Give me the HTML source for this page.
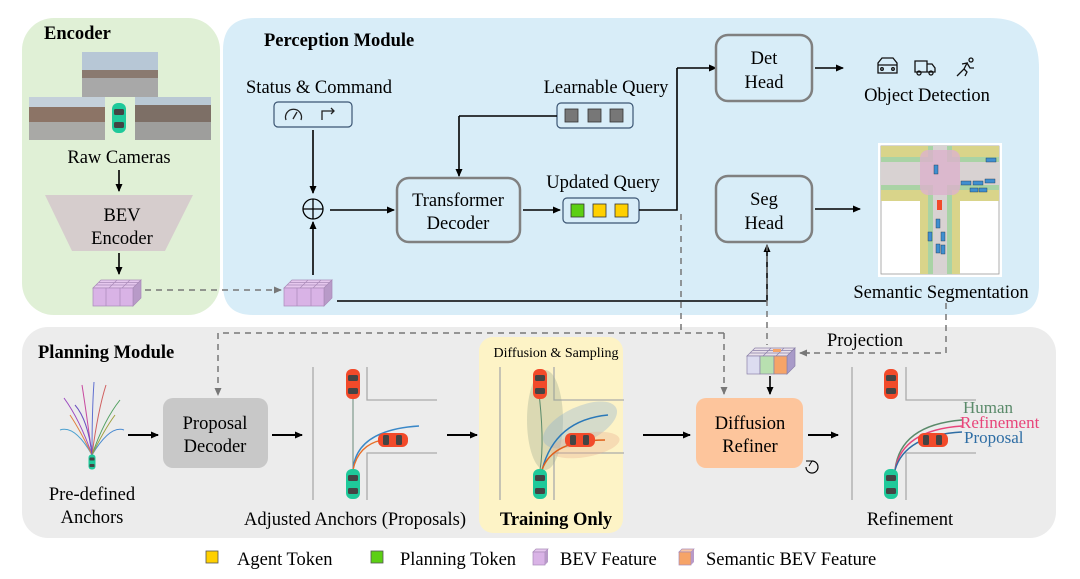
<!DOCTYPE html>
<html><head><meta charset="utf-8"><style>
html,body{margin:0;padding:0;background:#fff;}
svg{display:block;font-family:"Liberation Serif",serif;}
</style></head><body>
<svg width="1080" height="579" viewBox="0 0 1080 579" xmlns="http://www.w3.org/2000/svg" font-size="18.5">
<defs>
<marker id="ar" markerWidth="8" markerHeight="8" refX="7" refY="4" orient="auto" markerUnits="userSpaceOnUse"><path d="M0,0.5 L8,4 L0,7.5 Z" fill="#000"/></marker>
<marker id="ag" markerWidth="8" markerHeight="8" refX="7" refY="4" orient="auto" markerUnits="userSpaceOnUse"><path d="M0,0.5 L8,4 L0,7.5 Z" fill="#777"/></marker>
<g id="carT"><rect x="-7" y="-15" width="14" height="30" rx="6" fill="#1fc99a"/><rect x="-5" y="-9" width="10" height="6" rx="1.5" fill="#444"/><rect x="-5" y="4" width="10" height="6" rx="1.5" fill="#444"/></g>
<g id="carR"><rect x="-7" y="-15" width="14" height="30" rx="6" fill="#f24a2a"/><rect x="-5" y="-9" width="10" height="6" rx="1.5" fill="#444"/><rect x="-5" y="4" width="10" height="6" rx="1.5" fill="#444"/></g>
<g id="cube"><path d="M0,8 L8,0 L48,0 L40,8 Z" fill="#e6c8ee" stroke="#a98ab8" stroke-width="0.7"/><path d="M40,8 L48,0 L48,18 L40,26 Z" fill="#b89ac8" stroke="#a98ab8" stroke-width="0.7"/><rect x="0" y="8" width="40" height="18" fill="#d9b3e6" stroke="#a98ab8" stroke-width="0.7"/><path d="M13,8V26M27,8V26M3,5H43M6,2.5H46M16,8L24,0M29,8L37,0" stroke="#a98ab8" stroke-width="0.7" fill="none"/></g>
<g id="scene"><line x1="0" y1="7" x2="0" y2="140" stroke="#aaa" stroke-width="1.3"/><path d="M54,7 V40 H124" stroke="#aaa" stroke-width="1.3" fill="none"/><path d="M54,140 V93 H124" stroke="#aaa" stroke-width="1.3" fill="none"/></g>
</defs>

<!-- panels -->
<rect x="22" y="18" width="198" height="297" rx="32" fill="#e0f0d6"/>
<path d="M255,18 H990 Q1039,18 1039,68 V285 Q1039,315 1009,315 H253 Q223,315 223,285 V50 Q223,18 255,18 Z" fill="#d8edf8"/>
<rect x="22" y="327" width="1034" height="211" rx="26" fill="#ececec"/>
<rect x="479" y="337" width="144" height="196" rx="14" fill="#fdf3c6"/>

<!-- Encoder -->
<text x="44" y="39" font-size="18.5" font-weight="bold">Encoder</text>
<rect x="82" y="52" width="76" height="45" fill="#8a7a70"/><rect x="82" y="52" width="76" height="18" fill="#b7c7d6"/><rect x="82" y="78" width="76" height="19" fill="#a8a8a8"/>
<rect x="29" y="97" width="76" height="43" fill="#8c7466"/><rect x="29" y="97" width="76" height="10" fill="#c4d0da"/><rect x="29" y="122" width="76" height="18" fill="#a9a9a6"/>
<rect x="135" y="97" width="76" height="43" fill="#7d6f66"/><rect x="135" y="97" width="76" height="8" fill="#b9c8d4"/><rect x="135" y="122" width="76" height="18" fill="#9e9e9c"/>
<use href="#carT" x="119" y="118"/>
<text x="119" y="163" text-anchor="middle">Raw Cameras</text>
<line x1="119" y1="170" x2="119" y2="191" stroke="#000" stroke-width="1.6" marker-end="url(#ar)"/>
<path d="M45,195 H193 L165,251 H72 Z" fill="#d6cdcd"/>
<text x="122" y="221" text-anchor="middle">BEV</text>
<text x="122" y="244" text-anchor="middle">Encoder</text>
<line x1="119" y1="253" x2="119" y2="274" stroke="#000" stroke-width="1.6" marker-end="url(#ar)"/>
<use href="#cube" x="93" y="280"/>
<line x1="145" y1="290" x2="281" y2="290" stroke="#777" stroke-width="1.5" stroke-dasharray="6,5" marker-end="url(#ag)"/>
<use href="#cube" x="284" y="280"/>

<!-- Perception -->
<text x="264" y="46" font-size="18.5" font-weight="bold">Perception Module</text>
<text x="319" y="93" text-anchor="middle">Status &amp; Command</text>
<rect x="274" y="102" width="78" height="25" rx="4" fill="#d8edf8" stroke="#3b5573" stroke-width="1.2"/>
<path d="M286,120 A8,8 0 1 1 301,120" fill="none" stroke="#222" stroke-width="1.3"/><line x1="293" y1="119" x2="297" y2="112" stroke="#222" stroke-width="1.3"/>
<path d="M322,120 V111 H334 M331,108 L334,111 L331,114" fill="none" stroke="#222" stroke-width="1.3"/>
<line x1="313" y1="130" x2="313" y2="193" stroke="#000" stroke-width="1.6" marker-end="url(#ar)"/>
<circle cx="313" cy="209" r="10" fill="none" stroke="#000" stroke-width="1.3"/><path d="M303,209H323M313,199V219" stroke="#000" stroke-width="1.3"/>
<line x1="313" y1="275" x2="313" y2="222" stroke="#000" stroke-width="1.6" marker-end="url(#ar)"/>
<line x1="330" y1="210" x2="394" y2="210" stroke="#000" stroke-width="1.6" marker-end="url(#ar)"/>
<rect x="397" y="178" width="123" height="64" rx="12" fill="#d8edf8" stroke="#808080" stroke-width="2.5"/>
<text x="458" y="206" text-anchor="middle">Transformer</text>
<text x="458" y="229" text-anchor="middle">Decoder</text>
<line x1="337" y1="301" x2="767" y2="301" stroke="#000" stroke-width="1.6"/>
<line x1="767" y1="301" x2="767" y2="245" stroke="#000" stroke-width="1.6" marker-end="url(#ar)"/>
<text x="606" y="93" text-anchor="middle">Learnable Query</text>
<rect x="557" y="103" width="76" height="25" rx="4" fill="#d8edf8" stroke="#3b5573" stroke-width="1.2"/>
<rect x="565" y="109" width="13" height="13" fill="#777" stroke="#333" stroke-width="0.8"/><rect x="588" y="109" width="13" height="13" fill="#777" stroke="#333" stroke-width="0.8"/><rect x="610" y="109" width="13" height="13" fill="#777" stroke="#333" stroke-width="0.8"/>
<path d="M557,116 H459" stroke="#000" stroke-width="1.6" fill="none"/>
<line x1="459" y1="116" x2="459" y2="176" stroke="#000" stroke-width="1.6" marker-end="url(#ar)"/>
<line x1="523" y1="210" x2="560" y2="210" stroke="#000" stroke-width="1.6" marker-end="url(#ar)"/>
<text x="603" y="188" text-anchor="middle">Updated Query</text>
<rect x="563" y="198" width="76" height="25" rx="4" fill="#d8edf8" stroke="#3b5573" stroke-width="1.2"/>
<rect x="571" y="204" width="13" height="13" fill="#5ccf14" stroke="#333" stroke-width="0.8"/><rect x="593" y="204" width="13" height="13" fill="#ffd000" stroke="#333" stroke-width="0.8"/><rect x="615" y="204" width="13" height="13" fill="#ffd000" stroke="#333" stroke-width="0.8"/>
<path d="M639,210 H677 V68" stroke="#000" stroke-width="1.6" fill="none"/>
<line x1="677" y1="68" x2="716" y2="68" stroke="#000" stroke-width="1.6" marker-end="url(#ar)"/>
<rect x="716" y="35" width="96" height="66" rx="12" fill="#d8edf8" stroke="#808080" stroke-width="2.5"/>
<text x="764" y="64" text-anchor="middle">Det</text>
<text x="764" y="88" text-anchor="middle">Head</text>
<line x1="815" y1="68" x2="843" y2="68" stroke="#000" stroke-width="1.6" marker-end="url(#ar)"/>
<g fill="none" stroke="#111" stroke-width="1.3">
<path d="M878,73 V63 L882,58 H893 L897,63 V73 Z M878,65 H897"/><circle cx="882" cy="69" r="1.3"/><circle cx="893" cy="69" r="1.3"/>
<path d="M915,61 H927 V72 H915 Z M927,64 H932 L935,68 V72 H927"/><circle cx="919" cy="73" r="2"/><circle cx="931" cy="73" r="2"/>
<circle cx="971" cy="60" r="2"/><path d="M957,76 L961,72 L964,69 L967,63 L962,64 M967,63 L970,68 L974,68 M964,69 L967,72 L965,76"/>
</g>
<text x="927" y="101" text-anchor="middle">Object Detection</text>
<rect x="716" y="176" width="96" height="66" rx="12" fill="#d8edf8" stroke="#808080" stroke-width="2.5"/>
<text x="764" y="205" text-anchor="middle">Seg</text>
<text x="764" y="229" text-anchor="middle">Head</text>
<line x1="815" y1="209" x2="860" y2="209" stroke="#000" stroke-width="1.6" marker-end="url(#ar)"/>
<!-- seg map -->
<rect x="878" y="143" width="124" height="134" fill="#fff"/>
<rect x="881" y="146" width="118" height="128" fill="#fff" stroke="#999" stroke-width="0.8"/>
<rect x="881" y="146" width="118" height="55" fill="#d9d48a"/>
<rect x="920" y="146" width="40" height="128" fill="#d9d48a"/>
<rect x="881" y="157" width="118" height="33" fill="#a9d3a5"/>
<rect x="928" y="146" width="24" height="128" fill="#a9d3a5"/>
<rect x="881" y="162" width="118" height="23" fill="#d8d2d2"/>
<rect x="933" y="146" width="14" height="128" fill="#d8d2d2"/>
<rect x="920" y="150" width="40" height="45" rx="8" fill="#dcb1cc" opacity="0.8"/>
<g fill="#3f8fd0" stroke="#234" stroke-width="0.4"><rect x="986" y="158" width="10" height="4"/><rect x="961" y="181" width="10" height="4"/><rect x="973" y="181" width="10" height="4"/><rect x="985" y="179" width="10" height="4"/><rect x="970" y="188" width="8" height="4"/><rect x="979" y="188" width="8" height="4"/><rect x="934" y="165" width="4" height="9"/><rect x="936" y="219" width="4" height="9"/><rect x="941" y="232" width="4" height="9"/><rect x="928" y="232" width="4" height="9"/><rect x="936" y="244" width="4" height="9"/><rect x="941" y="245" width="4" height="9"/></g>
<rect x="937" y="200" width="5" height="10" fill="#f24a2a"/>
<text x="941" y="298" text-anchor="middle">Semantic Segmentation</text>

<!-- dashed connections -->
<g stroke="#777" stroke-width="1.5" stroke-dasharray="6,5" fill="none">
<path d="M681,214 V333"/>
<path d="M724,333 H218"/>
<path d="M767,245 V345"/>
<path d="M946,303 V353 H802"/>
</g>
<line x1="218" y1="333" x2="218" y2="395" stroke="#777" stroke-width="1.5" stroke-dasharray="6,5" marker-end="url(#ag)"/>
<line x1="724" y1="333" x2="724" y2="394" stroke="#777" stroke-width="1.5" stroke-dasharray="6,5" marker-end="url(#ag)"/>
<line x1="810" y1="353" x2="800" y2="353" stroke="#777" stroke-width="1.5" marker-end="url(#ag)"/>
<text x="865" y="346" text-anchor="middle">Projection</text>
<!-- semantic cube -->
<g transform="translate(747,348)">
<path d="M0,8 L8,0 L48,0 L40,8 Z" fill="#e8e0ea" stroke="#8a80a8" stroke-width="0.7"/>
<path d="M40,8 L48,0 L48,18 L40,26 Z" fill="#a89ac8" stroke="#8a80a8" stroke-width="0.7"/>
<rect x="0" y="8" width="13" height="18" fill="#dcdcf0" stroke="#8a80a8" stroke-width="0.7"/>
<rect x="13" y="8" width="14" height="18" fill="#b8e0b0" stroke="#8a80a8" stroke-width="0.7"/>
<rect x="27" y="8" width="13" height="18" fill="#f6a468" stroke="#8a80a8" stroke-width="0.7"/>
<path d="M3,5H43M6,2.5H46M16,8L24,0M29,8L37,0" stroke="#8a80a8" stroke-width="0.7"/>
<rect x="26" y="1" width="8" height="3" fill="#f6a468"/>
</g>
<line x1="770" y1="376" x2="770" y2="394" stroke="#000" stroke-width="1.6" marker-end="url(#ar)"/>

<!-- Planning -->
<text x="38" y="358" font-size="18.5" font-weight="bold">Planning Module</text>
<g fill="none" stroke-width="1">
<path d="M92,455 Q80,420 64,398" stroke="#9c4ac0"/><path d="M92,455 Q86,410 82,385" stroke="#c84aa0"/><path d="M92,455 Q92,410 94,382" stroke="#6070d0"/><path d="M92,455 Q98,410 106,385" stroke="#d06060"/><path d="M92,455 Q104,420 120,400" stroke="#50a060"/><path d="M92,455 Q75,425 60,430" stroke="#4aa0d0"/><path d="M92,455 Q110,425 124,430" stroke="#4a8ad0"/><path d="M92,455 Q80,430 70,415" stroke="#e08040"/><path d="M92,455 Q104,430 115,415" stroke="#a0a040"/><path d="M92,455 Q88,420 75,405" stroke="#6a50c0"/>
</g>
<use href="#carT" x="92" y="462" transform="translate(46,231) scale(0.5)"/>
<text x="92" y="500" text-anchor="middle">Pre-defined</text>
<text x="92" y="523" text-anchor="middle">Anchors</text>
<line x1="128" y1="435" x2="158" y2="435" stroke="#000" stroke-width="2" marker-end="url(#ar)"/>
<rect x="163" y="398" width="105" height="70" rx="10" fill="#c8c8c8"/>
<text x="215" y="429" text-anchor="middle">Proposal</text>
<text x="215" y="452" text-anchor="middle">Decoder</text>
<line x1="272" y1="435" x2="302" y2="435" stroke="#000" stroke-width="2" marker-end="url(#ar)"/>
<!-- adjusted scene -->
<use href="#scene" x="313" y="360"/>
<line x1="353" y1="398" x2="353" y2="470" stroke="#6a8a7a" stroke-width="1"/>
<path d="M353,470 Q356,430 419,426" stroke="#3a88c8" stroke-width="1.4" fill="none"/>
<path d="M353,470 Q358,445 382,440" stroke="#e8702a" stroke-width="1.4" fill="none"/>
<use href="#carR" x="353" y="384"/>
<use href="#carR" transform="translate(393,440) rotate(90)"/>
<use href="#carT" x="353" y="484"/>
<text x="355" y="525" text-anchor="middle">Adjusted Anchors (Proposals)</text>
<line x1="447" y1="435" x2="477" y2="435" stroke="#000" stroke-width="2" marker-end="url(#ar)"/>
<!-- training scene -->
<text x="556" y="357" font-size="14" text-anchor="middle">Diffusion &amp; Sampling</text>
<use href="#scene" x="500" y="360"/>
<ellipse cx="545" cy="420" rx="18" ry="50" fill="#9aa890" opacity="0.35"/>
<ellipse cx="580" cy="425" rx="40" ry="18" fill="#8ab0d0" opacity="0.35" transform="rotate(-25 580 425)"/>
<ellipse cx="585" cy="445" rx="35" ry="12" fill="#e8b090" opacity="0.35" transform="rotate(-10 585 445)"/>
<path d="M540,470 Q545,440 538,385" stroke="#5a8a6a" stroke-width="1" fill="none"/>
<path d="M542,470 Q555,420 608,415" stroke="#2a78b8" stroke-width="1.4" fill="none"/>
<path d="M542,470 Q552,440 605,440" stroke="#e0601a" stroke-width="1.4" fill="none"/>
<use href="#carR" x="540" y="384"/>
<use href="#carR" transform="translate(580,440) rotate(90)"/>
<use href="#carT" x="540" y="484"/>
<text x="556" y="525" font-weight="bold" text-anchor="middle">Training Only</text>
<line x1="643" y1="435" x2="690" y2="435" stroke="#000" stroke-width="2" marker-end="url(#ar)"/>
<rect x="696" y="398" width="107" height="70" rx="10" fill="#fdc59c"/>
<text x="750" y="429" text-anchor="middle">Diffusion</text>
<text x="750" y="452" text-anchor="middle">Refiner</text>
<path d="M806,467 A6,6 0 1 0 812,461" fill="none" stroke="#000" stroke-width="1.2"/><path d="M806,461 L812,461 L809,466" fill="none" stroke="#000" stroke-width="1"/>
<line x1="808" y1="435" x2="838" y2="435" stroke="#000" stroke-width="2" marker-end="url(#ar)"/>
<!-- refinement scene -->
<use href="#scene" x="852" y="360"/>
<path d="M895,470 Q900,425 962,420" stroke="#5a8a6a" stroke-width="1.4" fill="none"/>
<path d="M895,470 Q902,430 962,426" stroke="#e8457a" stroke-width="1.4" fill="none"/>
<path d="M895,470 Q905,435 962,432" stroke="#2e6da4" stroke-width="1.4" fill="none"/>
<use href="#carR" x="891" y="384"/>
<use href="#carR" transform="translate(933,440) rotate(90)"/>
<use href="#carT" x="891" y="484"/>
<text x="963" y="413" font-size="17" fill="#5a8a6a">Human</text>
<text x="960" y="428" font-size="17" fill="#e8457a">Refinement</text>
<text x="964" y="443" font-size="17" fill="#2e6da4">Proposal</text>
<text x="910" y="525" text-anchor="middle">Refinement</text>

<!-- legend -->
<rect x="206" y="551" width="12" height="12" fill="#ffd000" stroke="#555" stroke-width="0.8"/>
<text x="237" y="565">Agent Token</text>
<rect x="371" y="551" width="12" height="12" fill="#5ccf14" stroke="#555" stroke-width="0.8"/>
<text x="400" y="565">Planning Token</text>
<path d="M533,552 L536,549 H548 L545,552 Z" fill="#e6c8ee" stroke="#a98ab8" stroke-width="0.7"/><rect x="533" y="552" width="12" height="13" fill="#d9b3e6" stroke="#a98ab8" stroke-width="0.7"/><path d="M545,552 L548,549 V562 L545,565Z" fill="#b89ac8"/>
<text x="560" y="565">BEV Feature</text>
<path d="M679,552 L682,549 H694 L691,552 Z" fill="#f8c8a8" stroke="#a98ab8" stroke-width="0.7"/><rect x="679" y="552" width="12" height="13" fill="#f6a468" stroke="#a98ab8" stroke-width="0.7"/><path d="M691,552 L694,549 V562 L691,565Z" fill="#b89ac8"/>
<text x="706" y="565">Semantic BEV Feature</text>
</svg>
</body></html>
